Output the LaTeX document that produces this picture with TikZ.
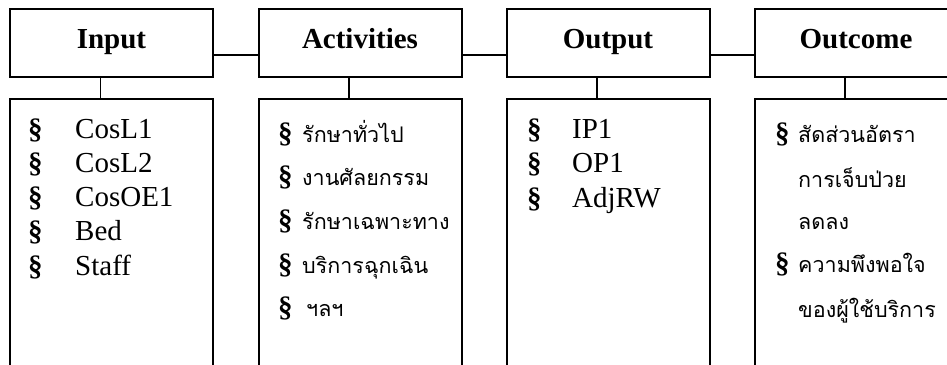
\documentclass[tikz,border=0pt]{standalone}
\usepackage{fontspec}
\setmainfont{Liberation Serif}
\newfontfamily\thaifont[Script=Thai]{Loma}
\begin{document}
\begin{tikzpicture}[x=1pt,y=-1pt,
  hbox/.style={draw, line width=2pt, minimum width=203pt, minimum height=68pt, inner sep=0pt, text height=18pt, text depth=8pt, font=\fontsize{29}{29}\selectfont\bfseries},
  lbox/.style={draw, line width=2pt, minimum width=203pt, minimum height=290pt, inner sep=0pt},
  conn/.style={line width=1.8pt},
  sym/.style={anchor=base west, inner sep=0pt, font=\fontsize{29}{29}\selectfont\bfseries},
  itm/.style={anchor=base west, inner sep=0pt, font=\fontsize{29}{29}\selectfont},
  thi/.style={anchor=base west, inner sep=0pt, font=\fontsize{21.5}{21.5}\thaifont}]
\useasboundingbox (0,0) rectangle (947,364);
\begin{scope}
\clip (0,0) rectangle (947,364);
% header boxes
\node[hbox] (hin)  at (111.5,43) {Input};
\node[hbox] (hact) at (360,43) {Activities};
\node[hbox] (hout) at (608,43) {Output};
\node[hbox] (hoc)  at (856,43) {Outcome};
% lower boxes
\node[lbox] (lin)  at (111.5,244) {};
\node[lbox] (lact) at (360,244) {};
\node[lbox] (lout) at (608,244) {};
\node[lbox] (loc)  at (856,244) {};
% connectors
\draw[conn] ([yshift=-12pt]hin.east) -- ([yshift=-12pt]hact.west);
\draw[conn] ([yshift=-12pt]hact.east) -- ([yshift=-12pt]hout.west);
\draw[conn] ([yshift=-12pt]hout.east) -- ([yshift=-12pt]hoc.west);
\draw[conn] ([xshift=-11pt]hin.south) -- ([xshift=-11pt]lin.north);
\draw[conn] ([xshift=-11pt]hact.south) -- ([xshift=-11pt]lact.north);
\draw[conn] ([xshift=-11pt]hout.south) -- ([xshift=-11pt]lout.north);
\draw[conn] ([xshift=-11pt]hoc.south) -- ([xshift=-11pt]loc.north);
% input list
\node[sym] (s1) at (28,138) {\S};  \node[itm] (i1) at (75,138) {CosL1};
\node[sym] (s2) at (28,172) {\S};  \node[itm] (i2) at (75,172) {CosL2};
\node[sym] (s3) at (28,206) {\S};  \node[itm] (i3) at (75,206) {CosOE1};
\node[sym] (s4) at (28,240) {\S};  \node[itm] (i4) at (75,240) {Bed};
\node[sym] (s5) at (28,275) {\S};  \node[itm] (i5) at (75,275) {Staff};
% activities list
\node[sym] (a1s) at (278,142) {\S}; \node[thi] (a1) at (302,142) {รักษาทั่วไป};
\node[sym] (a2s) at (278,185) {\S}; \node[thi] (a2) at (302,185) {งานศัลยกรรม};
\node[sym] (a3s) at (278,229) {\S}; \node[thi] (a3) at (302,229) {รักษาเฉพาะทาง};
\node[sym] (a4s) at (278,273) {\S}; \node[thi] (a4) at (302,273) {บริการฉุกเฉิน};
\node[sym] (a5s) at (278,316) {\S}; \node[thi] (a5) at (306,316) {ฯลฯ};
% output list
\node[sym] (o1s) at (527,138) {\S}; \node[itm] (o1) at (572,138) {IP1};
\node[sym] (o2s) at (527,172) {\S}; \node[itm] (o2) at (572,172) {OP1};
\node[sym] (o3s) at (527,207) {\S}; \node[itm] (o3) at (572,207) {AdjRW};
% outcome list
\node[sym] (c1s) at (775,142) {\S}; \node[thi] (c1) at (798,142) {สัดส่วนอัตรา};
\node[thi] (c2) at (798,187) {การเจ็บป่วย};
\node[thi] (c3) at (798,229) {ลดลง};
\node[sym] (c4s) at (775,272) {\S}; \node[thi] (c4) at (798,272) {ความพึงพอใจ};
\node[thi] (c5) at (798,317) {ของผู้ใช้บริการ};
\end{scope}
\end{tikzpicture}
\end{document}
